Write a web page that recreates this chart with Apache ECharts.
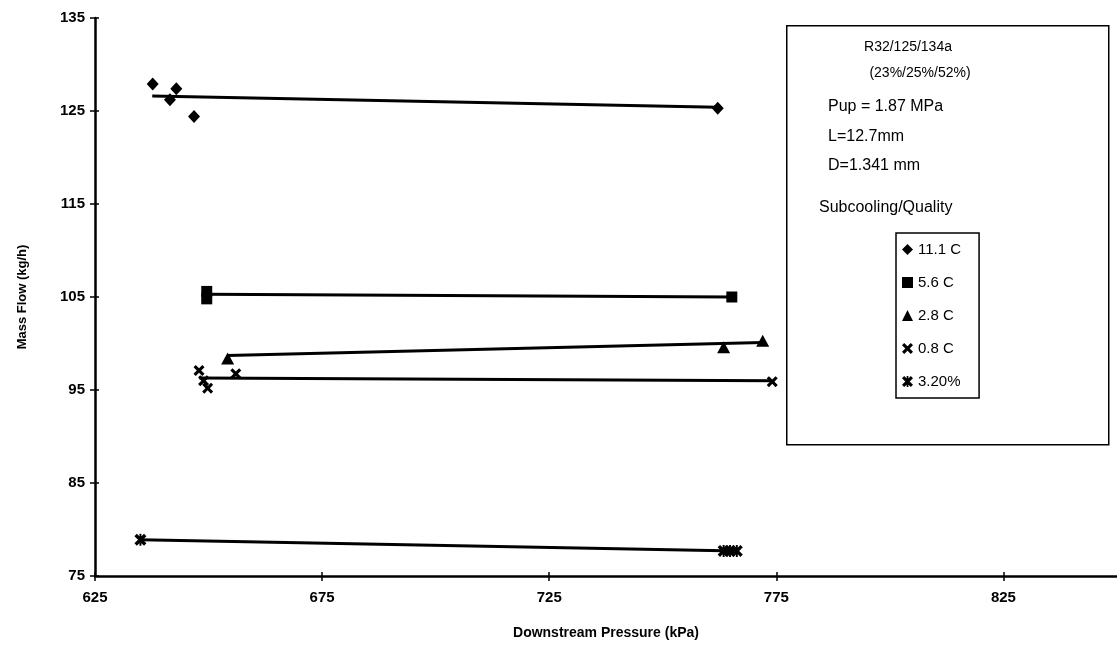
<!DOCTYPE html>
<html>
<head>
<meta charset="utf-8">
<script src="https://cdn.jsdelivr.net/npm/echarts@6/dist/echarts.min.js"></script>
<style>html,body{margin:0;padding:0;background:#fff}#c{width:1117px;height:645px}</style>
</head>
<body>
<div id="c"></div>
<script>
// ---- data ----
const xTicks = [625, 675, 725, 775, 825];
const yTicks = [75, 85, 95, 105, 115, 125, 135];
const seriesNames = ['11.1 C', '5.6 C', '2.8 C', '0.8 C', '3.20%'];
const d111 = [[637.7,127.9],[642.9,127.4],[641.5,126.2],[646.8,124.4],[762.1,125.3]];
const d56  = [[649.6,105.6],[649.6,104.8],[765.2,105.0]];
const d28  = [[654.2,98.4],[763.4,99.6],[772.0,100.3]];
const d08  = [[647.9,97.1],[648.9,96.0],[649.8,95.2],[656.0,96.75],[774.1,95.9]];
const d320 = [[635.0,78.9],[763.4,77.7],[764.8,77.7],[766.3,77.7]];
const t111 = [[637.6,126.6],[762.1,125.4]];
const t56  = [[649.6,105.3],[765.2,105.0]];
const t28  = [[654.2,98.7],[772.0,100.1]];
const t08  = [[648.0,96.3],[774.1,96.0]];
const t320 = [[635.0,78.9],[766.3,77.7]];
const noteLines = ['R32/125/134a', '(23%/25%/52%)', 'Pup = 1.87 MPa', 'L=12.7mm', 'D=1.341 mm', 'Subcooling/Quality'];

// ---- styles ----
const FONT = '"Liberation Sans", Arial, sans-serif';
const xPath = 'path://M0,2L2,0L5,3L8,0L10,2L7,5L10,8L8,10L5,7L2,10L0,8L3,5Z';
const starPath = 'path://M0,2L2,0L5,3L8,0L10,2L7,5L10,8L8,10L5,7L2,10L0,8L3,5Z M4.2,0L5.8,0L5.8,10L4.2,10Z';
const symbols = ['diamond', 'rect', 'triangle', xPath, starPath];
const sizes = [[12,13], 11, [13,12], 11, 12];
const pts = [d111, d56, d28, d08, d320];
const trends = [t111, t56, t28, t08, t320];

const series = [];
trends.forEach(t => series.push({
  type: 'line', data: t, symbol: 'none', silent: true,
  lineStyle: {color: '#000', width: 3}, z: 2
}));
pts.forEach((p, i) => series.push({
  type: 'scatter', name: seriesNames[i], data: p,
  symbol: symbols[i], symbolSize: sizes[i],
  itemStyle: {color: '#000', opacity: 1}, z: 3
}));

const tickStyle = {color: '#000', width: 1.5};
const chart = echarts.init(document.getElementById('c'), null, {renderer: 'canvas'});
chart.setOption({
  animation: false,
  backgroundColor: '#fff',
  grid: {left: 95, right: 0, top: 18, bottom: 67},
  xAxis: [{
    type: 'value', min: 625, max: 850,
    name: 'Downstream Pressure (kPa)', nameLocation: 'middle', nameGap: 50,
    nameTextStyle: {fontFamily: FONT, fontWeight: 'bold', fontSize: 14, color: '#000'},
    axisLine: {lineStyle: {color: '#000', width: 2.5}},
    axisTick: {show: true, length: 5, lineStyle: tickStyle, customValues: xTicks},
    axisLabel: {customValues: xTicks, fontFamily: FONT, fontWeight: 'bold', fontSize: 15, color: '#000', margin: 14},
    splitLine: {show: false}
  }, {
    type: 'value', min: 625, max: 850, position: 'bottom',
    axisLine: {show: false},
    axisTick: {show: true, inside: true, length: 4, lineStyle: tickStyle, customValues: xTicks},
    axisLabel: {show: false}, splitLine: {show: false}
  }],
  yAxis: [{
    type: 'value', min: 75, max: 135,
    name: 'Mass Flow (kg/h)', nameLocation: 'middle', nameGap: 66, nameRotate: 90,
    nameTextStyle: {fontFamily: FONT, fontWeight: 'bold', fontSize: 13, color: '#000'},
    axisLine: {show: true, lineStyle: {color: '#000', width: 2.5}},
    axisTick: {show: true, length: 5, lineStyle: tickStyle, customValues: yTicks},
    axisLabel: {customValues: yTicks, fontFamily: FONT, fontWeight: 'bold', fontSize: 15, color: '#000', margin: 10},
    splitLine: {show: false}
  }, {
    type: 'value', min: 75, max: 135, position: 'left',
    axisLine: {show: false},
    axisTick: {show: true, inside: true, length: 4, lineStyle: tickStyle, customValues: yTicks},
    axisLabel: {show: false}, splitLine: {show: false}
  }],
  legend: {
    data: seriesNames, orient: 'vertical', left: 896, top: 233,
    itemWidth: 11, itemHeight: 11, itemGap: 18,
    padding: [9, 18, 9, 6], borderColor: '#000', borderWidth: 1.5,
    backgroundColor: '#fff',
    textStyle: {fontFamily: FONT, fontSize: 15, color: '#000'},
    selectedMode: false
  },
  graphic: [
    {type: 'rect', left: 786, top: 25, z: 0, shape: {width: 322, height: 419},
     style: {fill: '#fff', stroke: '#000', lineWidth: 1.5}},
    {type: 'text', x: 908, y: 47, z: 5, style: {text: noteLines[0], font: '14px ' + FONT, fill: '#000', textAlign: 'center', textVerticalAlign: 'middle'}},
    {type: 'text', x: 920, y: 73, z: 5, style: {text: noteLines[1], font: '14px ' + FONT, fill: '#000', textAlign: 'center', textVerticalAlign: 'middle'}},
    {type: 'text', x: 828, y: 107, z: 5, style: {text: noteLines[2], font: '16px ' + FONT, fill: '#000', textAlign: 'left', textVerticalAlign: 'middle'}},
    {type: 'text', x: 828, y: 137, z: 5, style: {text: noteLines[3], font: '16px ' + FONT, fill: '#000', textAlign: 'left', textVerticalAlign: 'middle'}},
    {type: 'text', x: 828, y: 166, z: 5, style: {text: noteLines[4], font: '16px ' + FONT, fill: '#000', textAlign: 'left', textVerticalAlign: 'middle'}},
    {type: 'text', x: 819, y: 208, z: 5, style: {text: noteLines[5], font: '16px ' + FONT, fill: '#000', textAlign: 'left', textVerticalAlign: 'middle'}}
  ],
  series: series
});
</script>
</body>
</html>
